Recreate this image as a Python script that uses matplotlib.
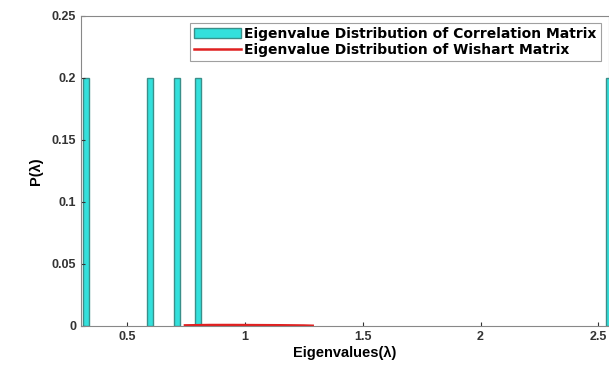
import numpy as np
import matplotlib.pyplot as plt

plt.rcParams['font.family'] = ['Liberation Sans', 'DejaVu Sans']
plt.rcParams['font.weight'] = 'bold'

# eigenvalues of the correlation matrix (histogram bin centres) and their probabilities
eig_centres = [0.327, 0.598, 0.713, 0.800, 2.545]
eig_prob = [0.2, 0.2, 0.2, 0.2, 0.2]

# Marchenko-Pastur (Wishart) curve, drawn flat along the axis
mp_lambda = [0.746, 0.85, 0.95, 1.05, 1.15, 1.25, 1.288]
mp_density = [0.0005, 0.0008, 0.0008, 0.0007, 0.0006, 0.0004, 0.0002]

fig = plt.figure(figsize=(6.09, 3.72), dpi=100)
ax = fig.add_axes([81/609, 46/372, 528/609, 310/372])

bars = ax.bar(eig_centres, eig_prob, width=0.024, color='#33e0dc', edgecolor='#3a8f8a',
              linewidth=1.0, label='Eigenvalue Distribution of Correlation Matrix')
line, = ax.plot(mp_lambda, mp_density, color='#e02020', linewidth=1.8,
                label='Eigenvalue Distribution of Wishart Matrix')

ax.set_xlim(0.305, 2.545)
ax.set_ylim(0, 0.25)
ax.set_xticks([0.5, 1, 1.5, 2, 2.5])
ax.set_xticklabels(['0.5', '1', '1.5', '2', '2.5'])
ax.set_yticks([0, 0.05, 0.1, 0.15, 0.2, 0.25])
ax.set_yticklabels(['0', '0.05', '0.1', '0.15', '0.2', '0.25'])
ax.tick_params(direction='in', length=3, labelsize=9, colors='#333333')
for s in ax.spines.values():
    s.set_color('#888888')
    s.set_linewidth(0.8)

ax.set_xlabel('Eigenvalues(λ)', fontsize=10.5, fontweight='bold', labelpad=2)
ax.set_ylabel('P(λ)', fontsize=10.5, fontweight='bold', labelpad=6)

leg = ax.legend(handles=[bars, line], loc='upper right', bbox_to_anchor=(0.984, 0.978),
                prop={'family': 'DejaVu Sans', 'weight': 'bold', 'size': 10},
                frameon=True, fancybox=False, borderpad=0.3,
                labelspacing=0.15, handlelength=3.4, handletextpad=0.2, borderaxespad=0)
leg.get_frame().set_edgecolor('#888888')
leg.get_frame().set_linewidth(0.8)

fig.savefig('out.png', dpi=100)
